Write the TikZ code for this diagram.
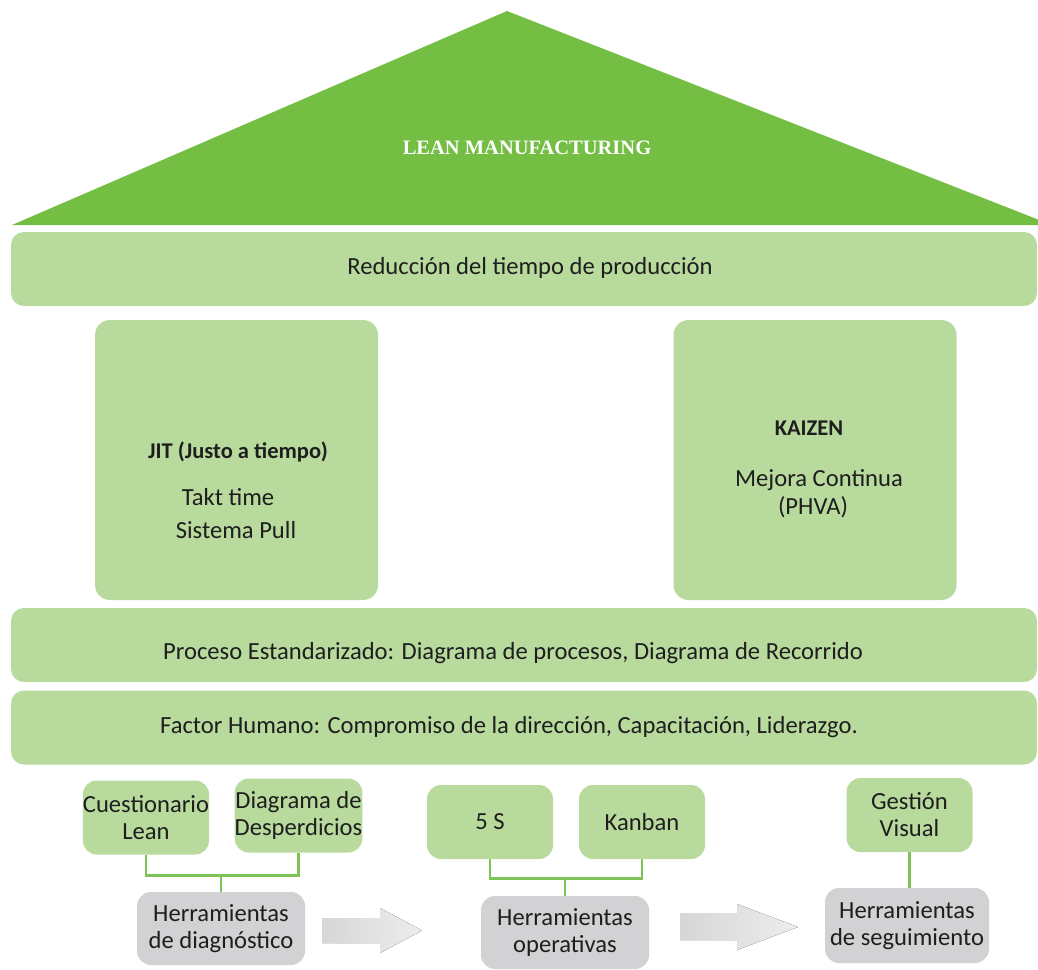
\documentclass[tikz,border=0pt]{standalone}
\usepackage{fontspec}
\setmainfont{Carlito}
\newfontfamily\roofserif{Liberation Serif}
\usetikzlibrary{positioning}
\definecolor{roofgreen}{HTML}{74BE44}
\definecolor{leafgreen}{HTML}{B8DA9D}
\definecolor{linkgreen}{HTML}{7EC355}
\definecolor{boxgray}{HTML}{D2D2D5}
\definecolor{inkgray}{HTML}{1E1E1E}

\begin{document}
\begin{tikzpicture}[
  x=1pt, y=-1pt,
  font=\fontsize{24.6}{27}\selectfont,
  band/.style={rounded corners=13pt, fill=leafgreen, minimum width=1026pt,
               minimum height=74pt, inner sep=0pt},
  pillar/.style={rounded corners=15pt, fill=leafgreen, minimum width=283pt,
                 minimum height=280pt, inner sep=0pt},
  tool/.style={rounded corners=14pt, fill=leafgreen, minimum width=126pt, minimum height=74pt,
               inner sep=0pt, align=center, text=inkgray},
  kind/.style={tool, fill=boxgray, minimum width=168pt, minimum height=73pt},
  txt/.style={text=inkgray, inner sep=0pt},
  head/.style={txt, font=\fontsize{22.5}{27}\selectfont\bfseries},
  link/.style={draw=linkgreen, line width=2.6pt},
  flow/.style={left color=black!16, right color=black!7, draw=none},
]
\useasboundingbox (0,0) rectangle (1038,969);

% ---- roof ----
\fill[roofgreen] (12,225) -- (507,11) -- (1052,225) -- cycle;
\node[text=white, font=\roofserif\bfseries\fontsize{20.5}{24}\selectfont] (title) at (527,148)
      {LEAN MANUFACTURING};

% ---- bands and pillars ----
\node[band]   (reduc)   at (524,269)   {};
\node[txt]    (treduc)  at (530,268)   {Reducción del tiempo de producción};

\node[pillar] (jit)     at (236.5,460) {};
\node[head]   (tjit)    at (238,452)   {JIT (Justo a tiempo)};
\node[txt]    (takt)    at (228,497)   {Takt time};
\node[txt]    (pull)    at (236,530)   {Sistema Pull};

\node[pillar] (kaizen)  at (815,460)   {};
\node[head]   (tkaizen) at (809,428)   {KAIZEN};
\node[txt]    (mejora)  at (819,480)   {Mejora Continua};
\node[txt]    (phva)    at (813,507)   {(PHVA)};

\node[band]   (proceso) at (524,645)   {};
\node[txt]    (tproceso) at (513,653)
      {Proceso Estandarizado: Diagrama de procesos, Diagrama de Recorrido};
\node[band]   (factor)  at (524,727.5) {};
\node[txt]    (tfactor) at (509,727)
      {Factor Humano: Compromiso de la dirección, Capacitación, Liderazgo.};

% ---- tools ----
\node[tool] (cuest)   at (146,817.5)   {Cuestionario\\Lean};
\node[tool] (desper)  at (298.5,815.5) {Diagrama de\\Desperdicios};
\node[tool] (cinco)   at (490,822)     {5 S};
\node[tool] (kanban)  at (642,822)     {Kanban};
\node[tool] (gestion) at (909.5,815)   {Gestión\\Visual};

\node[kind] (diag)  at (221,928.5) {Herramientas\\de diagnóstico};
\node[kind] (oper)  at (565,932.5) {Herramientas\\operativas};
\node[kind, minimum width=164pt, minimum height=75pt] (segui) at (907,925.5)
      {Herramientas\\de seguimiento};

% ---- connectors ----
\draw[link] (cuest.south) -- ++(0,21) -| (desper.south);
\draw[link] (diag.north) -- ++(0,-16);
\draw[link] (cinco.south) -- ++(0,19) -| (kanban.south);
\draw[link] (oper.north) -- ++(0,-19);
\draw[link] (gestion.south) -- (gestion.south |- segui.north);

% ---- block arrows ----
\fill[flow] (322,918) -- (380,918) -- (380,908) -- (422,930.5) -- (380,953)
            -- (380,943) -- (322,943) -- cycle;
\fill[flow] (680,913) -- (737,913) -- (737,904) -- (798,927) -- (737,950)
            -- (737,940) -- (680,940) -- cycle;
\end{tikzpicture}
\end{document}
